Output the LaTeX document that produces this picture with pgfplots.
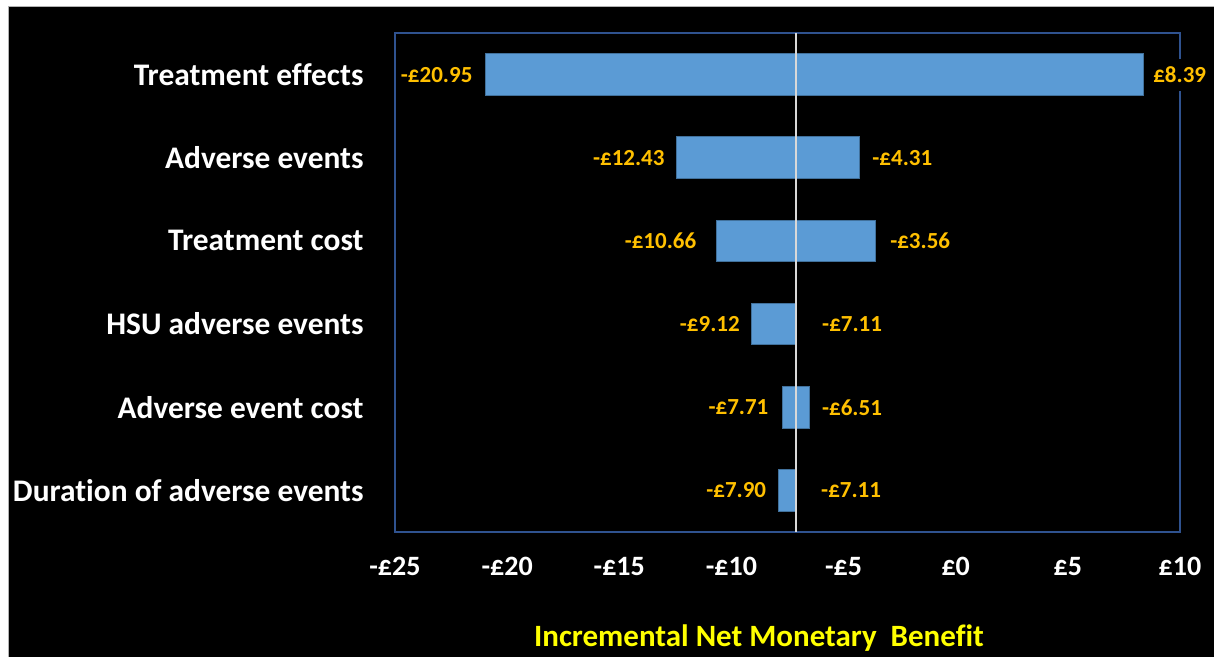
\documentclass[border=0pt]{standalone}
\usepackage{fontspec}
\setmainfont{Carlito}[Ligatures=NoCommon]
\usepackage{pgfplots}
\pgfplotsset{compat=1.18}
\definecolor{barBlue}{HTML}{5B9BD5}
\definecolor{barEdge}{HTML}{41719C}
\definecolor{frameNavy}{HTML}{2F528F}
\definecolor{labelGold}{HTML}{FFC000}
\definecolor{baseGrey}{HTML}{D9D9D9}
\definecolor{axisYellow}{HTML}{FFFF00}
\tikzset{dl/.style={font=\fontsize{11.5}{13}\selectfont\bfseries,text=labelGold,inner sep=0pt}}

\begin{document}
\begin{tikzpicture}
% canvas: 1 px of the reference = 0.5pt, axis box lower-left at (0,0)
\path[use as bounding box] (-197.5pt,-62.5pt) rectangle (409.5pt,266pt);
\fill[white] (-197.5pt,-62.5pt) rectangle (409.5pt,266pt);
\fill[black] (-193.15pt,-62.5pt) rectangle (409.5pt,262.5pt);
\draw[black!30,line width=0.5pt] (-193.15pt,-62.5pt) -- (-193.15pt,262.5pt) -- (409.5pt,262.5pt);
\begin{axis}[
  at={(0,0)}, anchor=south west,
  scale only axis, width=392.5pt, height=249.5pt,
  xmin=-25, xmax=10, ymin=0.5, ymax=6.5,
  axis line style={frameNavy,line width=0.75pt},
  major tick length=0pt,
  xtick={-25,-20,...,10},
  xticklabels={-£25,-£20,-£15,-£10,-£5,£0,£5,£10},
  ytick={1,...,6},
  yticklabels={Duration of adverse events,Adverse event cost,HSU adverse events,
    Treatment cost,Adverse events,Treatment effects},
  xticklabel style={font=\fontsize{14}{16}\selectfont\bfseries,text=white,
    anchor=north,inner sep=0pt,yshift=-12.5pt},
  yticklabel style={font=\fontsize{15.7}{18}\selectfont\bfseries,text=white,
    anchor=east,inner sep=0pt,xshift=-15.5pt},
  xlabel={Incremental Net Monetary\ \ Benefit},
  xlabel style={font=\fontsize{15.5}{18}\selectfont\bfseries,text=axisYellow,
    at={(axis description cs:0.4637,0)},anchor=center,yshift=-53pt},
  clip=false,
]
% bars: low and high INMB for each parameter
\addplot[fill=barBlue,draw=barEdge,line width=0.5pt] coordinates {(-20.95,5.75) (8.39,5.75) (8.39,6.25) (-20.95,6.25)} -- cycle;
\addplot[fill=barBlue,draw=barEdge,line width=0.5pt] coordinates {(-12.43,4.75) (-4.31,4.75) (-4.31,5.25) (-12.43,5.25)} -- cycle;
\addplot[fill=barBlue,draw=barEdge,line width=0.5pt] coordinates {(-10.66,3.75) (-3.56,3.75) (-3.56,4.25) (-10.66,4.25)} -- cycle;
\addplot[fill=barBlue,draw=barEdge,line width=0.5pt] coordinates {(-9.12,2.75) (-7.11,2.75) (-7.11,3.25) (-9.12,3.25)} -- cycle;
\addplot[fill=barBlue,draw=barEdge,line width=0.5pt] coordinates {(-7.71,1.75) (-6.51,1.75) (-6.51,2.25) (-7.71,2.25)} -- cycle;
\addplot[fill=barBlue,draw=barEdge,line width=0.5pt] coordinates {(-7.90,0.75) (-7.11,0.75) (-7.11,1.25) (-7.90,1.25)} -- cycle;
% base case line
\addplot[baseGrey,line width=0.75pt] coordinates {(-7.11,0.5) (-7.11,6.5)};
% value labels
\node[dl,anchor=east,xshift=-6.5pt] at (axis cs:-20.95,6) {-£20.95};
\node[dl,anchor=west,xshift=4pt,fill=black,inner xsep=0.5pt,inner ysep=4pt] at (axis cs:8.39,6) {£8.39};
\node[dl,anchor=east,xshift=-6pt] at (axis cs:-12.43,5) {-£12.43};
\node[dl,anchor=west,xshift=6.5pt] at (axis cs:-4.31,5) {-£4.31};
\node[dl,anchor=east,xshift=-10pt] at (axis cs:-10.66,4) {-£10.66};
\node[dl,anchor=west,xshift=7pt] at (axis cs:-3.56,4) {-£3.56};
\node[dl,anchor=east,xshift=-5.5pt] at (axis cs:-9.12,3) {-£9.12};
\node[dl,anchor=west,xshift=12.8pt] at (axis cs:-7.11,3) {-£7.11};
\node[dl,anchor=east,xshift=-7pt] at (axis cs:-7.71,2) {-£7.71};
\node[dl,anchor=west,xshift=6pt] at (axis cs:-6.51,2) {-£6.51};
\node[dl,anchor=east,xshift=-6pt] at (axis cs:-7.90,1) {-£7.90};
\node[dl,anchor=west,xshift=12.3pt] at (axis cs:-7.11,1) {-£7.11};
\end{axis}
\end{tikzpicture}
\end{document}
